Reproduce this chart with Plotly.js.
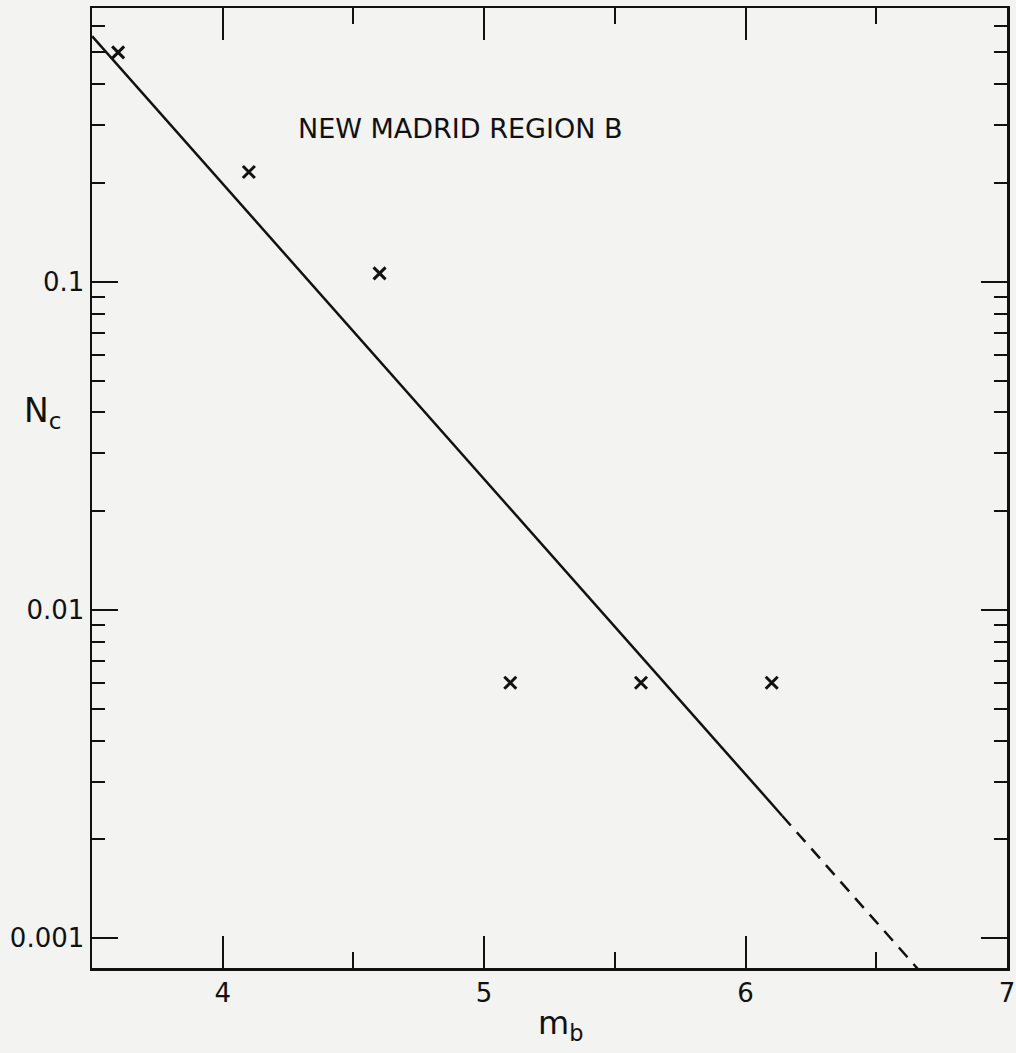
<!DOCTYPE html>
<html>
<head>
<meta charset="utf-8">
<script src="https://cdn.plot.ly/plotly-3.0.1.min.js"></script>
<style>html,body{margin:0;padding:0;background:#f3f3f1;}#chart{width:1016px;height:1053px;}</style>
</head>
<body>
<div id="chart"></div>
<script>
// Observed data (m_b, cumulative annual number N_c)
const magnitudes = [3.6, 4.1, 4.6, 5.1, 5.6, 6.1];
const countsNc = [0.50, 0.216, 0.106, 0.0060, 0.0060, 0.0060];

// Fitted recurrence line (solid part, then dashed extrapolation)
const fitSolidX = [3.5, 6.14];
const fitSolidY = [0.56, 0.00236];
const fitDashX = [6.14, 6.70];
const fitDashY = [0.00236, 0.00074];

// Axis tick labels
const xTickVals = [4, 5, 6, 7];
const xTickText = ['4', '5', '6', '7'];
const xMinorVals = [3.5, 4.5, 5.5, 6.5];
const yTickVals = [0.001, 0.01, 0.1];
const yTickText = ['0.001', '0.01', '0.1'];

const yMinorVals = [];
[0.001, 0.01, 0.1].forEach(d => { for (let k = 2; k <= 9; k++) yMinorVals.push(d * k); });

const ink = '#111';
const font = 'DejaVu Sans, Liberation Sans, sans-serif';

const traces = [
  {x: fitSolidX, y: fitSolidY, mode: 'lines', line: {color: ink, width: 2.5}, hoverinfo: 'skip'},
  {x: fitDashX, y: fitDashY, mode: 'lines', line: {color: ink, width: 2.5, dash: '13px,9px'}, hoverinfo: 'skip'},
  {x: magnitudes, y: countsNc, mode: 'markers',
   marker: {symbol: 'x-thin-open', size: 12, color: ink, line: {color: ink, width: 3}}}
];

const layout = {
  width: 1016, height: 1053,
  margin: {l: 92, r: 9, t: 8, b: 85},
  paper_bgcolor: '#f3f3f1', plot_bgcolor: '#f3f3f1',
  showlegend: false,
  font: {family: font, color: ink},
  xaxis: {
    range: [3.5, 7], tickmode: 'array', tickvals: xTickVals, ticktext: xTickText,
    ticks: 'inside', ticklen: 32, tickwidth: 2, tickcolor: ink,
    showline: true, linecolor: ink, linewidth: 2.5, mirror: 'allticks',
    showgrid: false, zeroline: false,
    tickfont: {size: 26, family: font, color: ink},
    minor: {tickmode: 'array', tickvals: xMinorVals, ticks: 'inside', ticklen: 16, tickwidth: 2, tickcolor: ink, showgrid: false}
  },
  yaxis: {
    type: 'log', range: [-3.091, -0.166],
    tickmode: 'array', tickvals: yTickVals, ticktext: yTickText,
    ticks: 'inside', ticklen: 26, tickwidth: 2, tickcolor: ink,
    showline: true, linecolor: ink, linewidth: 2.5, mirror: 'allticks',
    showgrid: false, zeroline: false,
    tickfont: {size: 26, family: font, color: ink},
    minor: {tickmode: 'array', tickvals: yMinorVals, ticks: 'inside', ticklen: 13, tickwidth: 2, tickcolor: ink, showgrid: false}
  },
  annotations: [
    {text: 'NEW MADRID REGION B', xref: 'x', yref: 'y', x: 4.281, y: Math.log10(0.294),
     xanchor: 'left', yanchor: 'middle', showarrow: false,
     font: {size: 27, family: font, color: ink}},
    {text: 'N<sub>c</sub>', xref: 'paper', yref: 'y', x: -0.077, y: Math.log10(0.040),
     xanchor: 'left', yanchor: 'middle', showarrow: false,
     font: {size: 33, family: font, color: ink}},
    {text: 'm<sub>b</sub>', xref: 'paper', yref: 'paper', x: 0.5115, y: -0.059,
     xanchor: 'center', yanchor: 'middle', showarrow: false,
     font: {size: 32, family: font, color: ink}}
  ]
};

Plotly.newPlot('chart', traces, layout, {displayModeBar: false, staticPlot: true});
</script>
</body>
</html>
